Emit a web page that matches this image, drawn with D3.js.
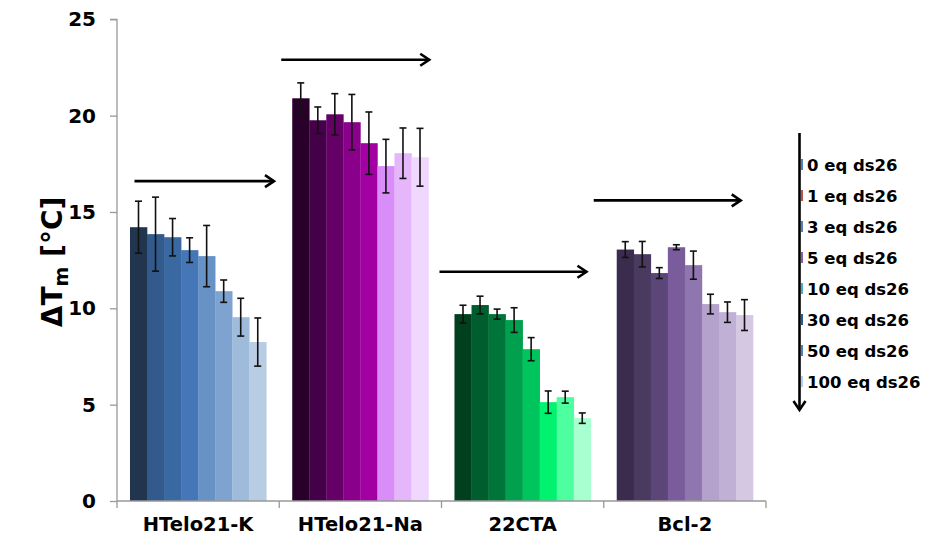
<!DOCTYPE html>
<html>
<head>
<meta charset="utf-8">
<script src="https://cdn.jsdelivr.net/npm/d3@7"></script>
<style>
  body { margin: 0; background: #fff; }
  text { font-family: "DejaVu Sans", Arial, sans-serif; font-weight: bold; fill: #000; }
</style>
</head>
<body>
<div id="chart"></div>
<script>
// data
var groups = ["HTelo21-K", "HTelo21-Na", "22CTA", "Bcl-2"];
var doses = ["0 eq ds26", "1 eq ds26", "3 eq ds26", "5 eq ds26",
             "10 eq ds26", "30 eq ds26", "50 eq ds26", "100 eq ds26"];
var valK  = [14.21, 13.85, 13.69, 13.02, 12.71, 10.89, 9.54, 8.25];
var errK  = [1.35, 1.92, 0.97, 0.64, 1.59, 0.58, 0.98, 1.25];
var valNa = [20.90, 19.76, 20.07, 19.66, 18.57, 17.38, 18.05, 17.84];
var errNa = [0.80, 0.69, 1.07, 1.44, 1.62, 1.39, 1.31, 1.50];
var valCTA = [9.70, 10.17, 9.70, 9.39, 7.88, 5.13, 5.39, 4.30];
var errCTA = [0.46, 0.46, 0.26, 0.64, 0.60, 0.58, 0.31, 0.27];
var valBcl = [13.05, 12.81, 11.83, 13.17, 12.24, 10.22, 9.80, 9.65];
var errBcl = [0.41, 0.66, 0.28, 0.13, 0.73, 0.51, 0.53, 0.80];
var yTicks = [0, 5, 10, 15, 20, 25];
// arrow above each group, at a value level
var arrowLevel = [16.6, 22.9, 11.9, 15.6];

var palettes = [
  ["#22354f", "#325a8c", "#3a68a0", "#4577b8", "#6792c6", "#7fa3d0", "#9ebbdc", "#b8cce4"],
  ["#28002a", "#45004a", "#650066", "#8a008a", "#a300a3", "#d88df8", "#e6b6fb", "#f0d7fd"],
  ["#00401f", "#005e2e", "#00753a", "#00a04f", "#00c45c", "#00f26e", "#4dff9e", "#a8ffd0"],
  ["#3b2c4e", "#4a3a60", "#5c4678", "#7a5c9c", "#8f76ae", "#b4a2cc", "#c0b0d5", "#d5c8e2"]
];
var swatch = ["#4f81bd", "#c0504d", "#4f81bd", "#8064a2", "#4bacc6", "#1f5fa0", "#4f81bd", "#b9cde5"];

var vals = [valK, valNa, valCTA, valBcl];
var errs = [errK, errNa, errCTA, errBcl];
var rows = [];
groups.forEach(function(g, gi){
  doses.forEach(function(d, di){
    rows.push({group: g, dose: d, v: vals[gi][di], e: errs[gi][di], c: palettes[gi][di]});
  });
});

var W = 925, H = 543;
var svg = d3.select("#chart").append("svg").attr("width", W).attr("height", H);

var x0 = d3.scaleBand().domain(groups).range([117, 766]).paddingInner(0.16).paddingOuter(0.08);
var x1 = d3.scaleBand().domain(doses).range([0, x0.bandwidth()]);
var y = d3.scaleLinear().domain([0, 25]).range([501, 19.3]);

// bars
svg.append("g").selectAll("rect").data(rows).enter().append("rect")
  .attr("x", function(d){ return x0(d.group) + x1(d.dose); })
  .attr("width", x1.bandwidth() + 0.3)
  .attr("y", function(d){ return y(d.v); })
  .attr("height", function(d){ return y(0) - y(d.v); })
  .attr("fill", function(d){ return d.c; });

// error bars
var eb = svg.append("g").attr("stroke", "#111").attr("stroke-width", 1.6)
  .selectAll("g").data(rows).enter().append("g")
  .attr("transform", function(d){ return "translate(" + (x0(d.group) + x1(d.dose) + x1.bandwidth()/2) + ",0)"; });
eb.append("line").attr("y1", function(d){ return y(d.v + d.e); }).attr("y2", function(d){ return y(d.v - d.e); });
eb.append("line").attr("x1", -3.5).attr("x2", 3.5)
  .attr("y1", function(d){ return y(d.v + d.e); }).attr("y2", function(d){ return y(d.v + d.e); });
eb.append("line").attr("x1", -3.5).attr("x2", 3.5)
  .attr("y1", function(d){ return y(d.v - d.e); }).attr("y2", function(d){ return y(d.v - d.e); });

// y axis
var yAxis = svg.append("g").attr("transform", "translate(117,0)")
  .call(d3.axisLeft(y).tickValues(yTicks).tickSize(7).tickPadding(14));
yAxis.select(".domain").attr("stroke", "#999").attr("stroke-width", 1.3).attr("d", "M0," + y(0) + "V" + y(25) + "h-7");
yAxis.selectAll(".tick line").attr("stroke", "#999").attr("stroke-width", 1.3);
yAxis.selectAll(".tick text").attr("font-size", 20).attr("font-family", "DejaVu Sans").attr("font-weight", "bold").attr("fill", "#000");

// x axis
var bounds = groups.map(function(g){ return x0(g) - x0.step()*x0.paddingInner()/2; }).concat([766]);
bounds[0] = 117;
var xAxis = svg.append("g");
xAxis.append("line").attr("x1", 117).attr("x2", 766).attr("y1", y(0)).attr("y2", y(0))
  .attr("stroke", "#999").attr("stroke-width", 1.3);
xAxis.selectAll(".tk").data(bounds).enter().append("line")
  .attr("x1", function(d){ return d; }).attr("x2", function(d){ return d; })
  .attr("y1", y(0)).attr("y2", y(0) + 7).attr("stroke", "#999").attr("stroke-width", 1.3);
xAxis.selectAll("text").data(groups).enter().append("text")
  .attr("x", function(d){ return x0(d) + x0.bandwidth()/2; })
  .attr("y", 531)
  .attr("text-anchor", "middle")
  .attr("font-size", 19.5)
  .text(function(d){ return d; });

// y label
var yl = svg.append("text")
  .attr("transform", "translate(62,262) rotate(-90)")
  .attr("text-anchor", "middle")
  .attr("font-size", 28);
yl.append("tspan").text("\u0394T");
yl.append("tspan").attr("font-size", 19).attr("dy", 6).text("m");
yl.append("tspan").attr("dy", -6).text(" [\u00b0C]");

// arrows
function arrow(g, x1a, y1a, x2a, y2a){
  g.append("line").attr("x1", x1a).attr("y1", y1a).attr("x2", x2a).attr("y2", y2a)
    .attr("stroke", "#000").attr("stroke-width", 2.6);
  var horiz = y1a === y2a;
  var d = horiz
    ? "M" + (x2a - 9) + "," + (y2a - 6) + "L" + x2a + "," + y2a + "L" + (x2a - 9) + "," + (y2a + 6)
    : "M" + (x2a - 6) + "," + (y2a - 9) + "L" + x2a + "," + y2a + "L" + (x2a + 6) + "," + (y2a - 9);
  g.append("path").attr("d", d).attr("fill", "none").attr("stroke", "#000").attr("stroke-width", 2.6);
}
var arrG = svg.append("g");
var arrowOff = [[4.5, 144], [-11, 137], [-15, 132], [-23, 124]];
groups.forEach(function(g, i){
  arrow(arrG, x0(g) + arrowOff[i][0], y(arrowLevel[i]), x0(g) + arrowOff[i][1], y(arrowLevel[i]));
});

// legend with down arrow
var leg = svg.append("g");
var legY = d3.scalePoint().domain(doses).range([165, 382]);
leg.selectAll("rect").data(doses).enter().append("rect")
  .attr("x", 801).attr("width", 2)
  .attr("y", function(d){ return legY(d) - 6; }).attr("height", 11)
  .attr("fill", function(d, i){ return swatch[i]; });
leg.selectAll("text").data(doses).enter().append("text")
  .attr("x", 807).attr("y", function(d){ return legY(d) + 6; })
  .attr("font-size", 16.5)
  .text(function(d){ return d; });
arrow(leg, 799.5, 133, 799.5, 410);
</script>
</body>
</html>
